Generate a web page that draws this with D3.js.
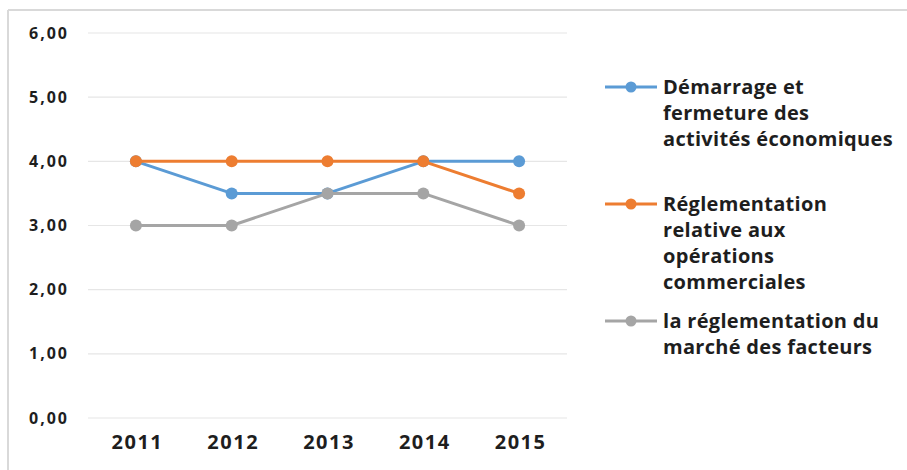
<!DOCTYPE html>
<html>
<head>
<meta charset="utf-8">
<script src="https://cdn.jsdelivr.net/npm/d3@7"></script>
<style>
  html, body { margin: 0; padding: 0; background: #fff; }
  svg { display: block; font-family: "Open Sans", sans-serif; }
</style>
</head>
<body>
<svg id="chart" width="907" height="470"></svg>
<script>
// Years on the horizontal axis
const years = ["2011", "2012", "2013", "2014", "2015"];

// Series values
const demarrage = [4.0, 3.5, 3.5, 4.0, 4.0];
const reglementationOps = [4.0, 4.0, 4.0, 4.0, 3.5];
const reglementationMarche = [3.0, 3.0, 3.5, 3.5, 3.0];

// Y tick values and labels
const yTicks = [0, 1, 2, 3, 4, 5, 6];
const yTickLabels = ["0,00", "1,00", "2,00", "3,00", "4,00", "5,00", "6,00"];

// Legend labels (pre-wrapped lines)
const seriesNames = [
  ["Démarrage et", "fermeture des", "activités économiques"],
  ["Réglementation", "relative aux", "opérations", "commerciales"],
  ["la réglementation du", "marché des facteurs"]
];
const seriesColors = ["#5B9BD5", "#ED7D31", "#A5A5A5"];
const seriesValues = [demarrage, reglementationOps, reglementationMarche];

const fontFamily = "'Open Sans', sans-serif";
const textColor = "#1e1e1e";

const svg = d3.select("#chart");

// Outer frame (top and left edges visible)
svg.append("line").attr("x1", 8).attr("x2", 907).attr("y1", 10).attr("y2", 10)
  .attr("stroke", "#d9d9d9").attr("stroke-width", 2);
svg.append("line").attr("x1", 8).attr("x2", 8).attr("y1", 10).attr("y2", 470)
  .attr("stroke", "#d9d9d9").attr("stroke-width", 2);

const plotLeft = 88, plotRight = 567, plotTop = 33, plotBottom = 418;

const x = d3.scalePoint().domain(years).range([plotLeft, plotRight]).padding(0.5);
const y = d3.scaleLinear().domain([0, 6]).range([plotBottom, plotTop]);

// Horizontal gridlines
svg.append("g").selectAll("line").data(yTicks).join("line")
  .attr("x1", plotLeft).attr("x2", plotRight)
  .attr("y1", d => y(d)).attr("y2", d => y(d))
  .attr("stroke", "#e6e6e6").attr("stroke-width", 1.2);

// Y axis labels
const yAxis = d3.axisLeft(y).tickValues(yTicks)
  .tickFormat((d, i) => yTickLabels[i]).tickSize(0).tickPadding(0);
const yG = svg.append("g").attr("transform", `translate(69,0)`).call(yAxis);
yG.select(".domain").remove();
yG.selectAll("text")
  .attr("fill", textColor).attr("font-size", 16).attr("font-weight", "bold")
  .attr("letter-spacing", 2)
  .attr("font-family", fontFamily);

// X axis labels
const xAxis = d3.axisBottom(x).tickSize(0).tickPadding(0);
const xG = svg.append("g").attr("transform", `translate(1,435)`).call(xAxis);
xG.select(".domain").remove();
xG.selectAll("text")
  .attr("fill", textColor).attr("font-size", 20).attr("font-weight", "bold")
  .attr("letter-spacing", 1.5)
  .attr("font-family", fontFamily);

// Lines and markers
const line = d3.line().x((d, i) => x(years[i])).y(d => y(d));
seriesValues.forEach((vals, s) => {
  const g = svg.append("g");
  g.append("path").datum(vals)
    .attr("d", line).attr("fill", "none")
    .attr("stroke", seriesColors[s]).attr("stroke-width", 3)
    .attr("stroke-linejoin", "round");
  g.selectAll("circle").data(vals).join("circle")
    .attr("cx", (d, i) => x(years[i])).attr("cy", d => y(d))
    .attr("r", 6).attr("fill", seriesColors[s]);
});

// Legend
const legendTop = [87, 204, 321];
const lineStep = 26;
seriesNames.forEach((lines, s) => {
  const g = svg.append("g");
  const cy = legendTop[s];
  g.append("line").attr("x1", 605).attr("x2", 657).attr("y1", cy).attr("y2", cy)
    .attr("stroke", seriesColors[s]).attr("stroke-width", 3);
  g.append("circle").attr("cx", 631).attr("cy", cy).attr("r", 5.5).attr("fill", seriesColors[s]);
  lines.forEach((t, i) => {
    g.append("text").attr("x", 663).attr("y", cy + i * lineStep)
      .attr("dy", "0.35em").attr("fill", textColor)
      .attr("font-size", 20).attr("font-weight", "bold")
      .attr("letter-spacing", 0.3)
      .attr("font-family", fontFamily)
      .text(t);
  });
});
</script>
</body>
</html>
